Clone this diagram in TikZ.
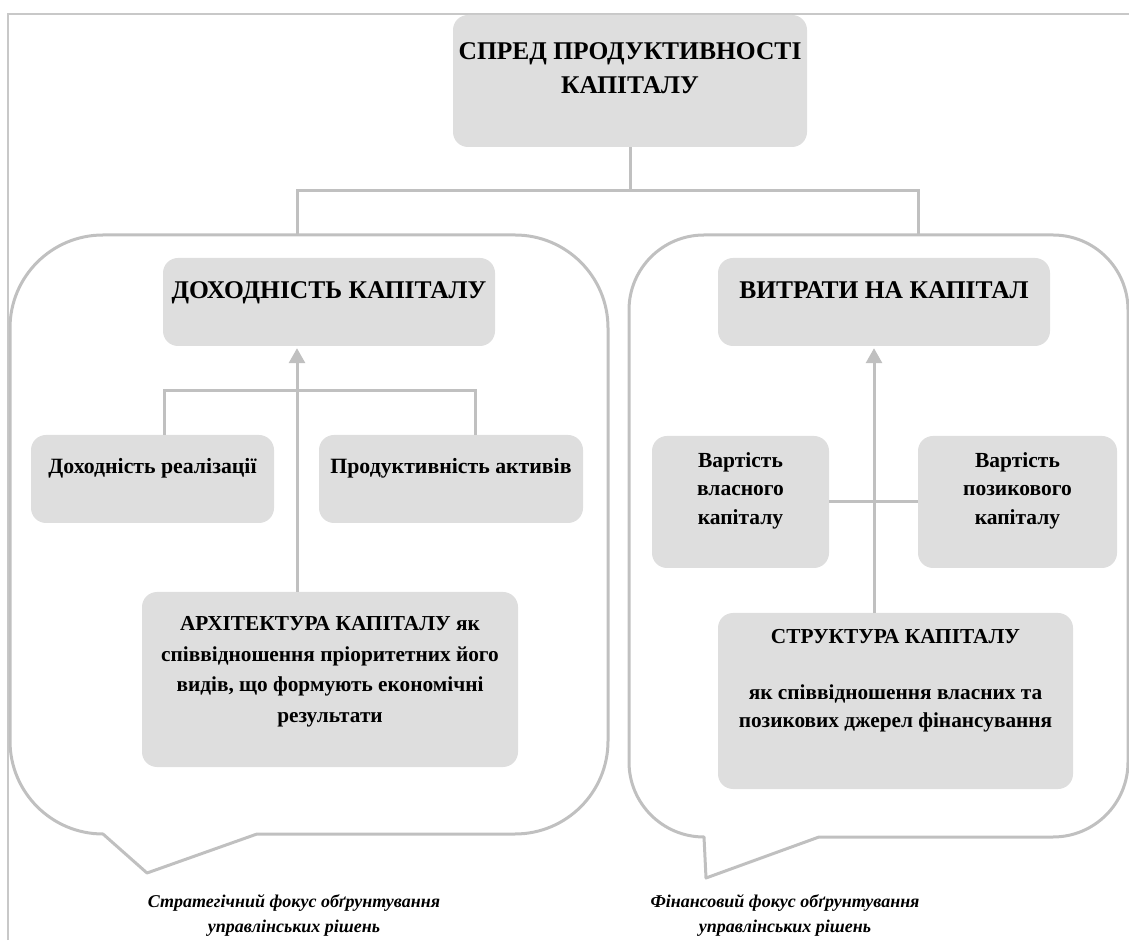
\documentclass[tikz,border=0pt]{standalone}
\usepackage{fontspec}
\setmainfont{Liberation Serif}
\usetikzlibrary{arrows.meta,calc}
\definecolor{boxfill}{RGB}{222,222,222}
\definecolor{linegray}{RGB}{192,192,192}
\definecolor{framegray}{RGB}{200,200,200}
\begin{document}
\begin{tikzpicture}[x=1pt,y=1pt,
  box/.style 2 args={fill=boxfill, draw=none, rounded corners=15pt, inner sep=0pt,
                     minimum width=#1, minimum height=#2},
  txt/.style 2 args={font=\bfseries\fontsize{#1}{#2}\selectfont, align=center,
                     inner sep=0pt, anchor=north},
  caption/.style={font=\bfseries\itshape\fontsize{18}{25}\selectfont, align=center,
                  inner sep=0pt, anchor=north},
  conn/.style={draw=linegray, line width=3pt},
  arr/.style={conn, -{Triangle[width=16pt,length=15pt]}, shorten >=2pt},
  callout/.style={draw=linegray, line width=3pt, line join=round}]
\useasboundingbox (0,0) rectangle (1129,940);

% page frame
\draw[framegray, line width=1.5pt] (8,0) -- (8,926) -- (1129,926);

% speech-bubble frames
\draw[callout] (103,705) -- (515,705) arc (90:0:93) -- (608,199) arc (0:-90:93)
  -- (257,106) -- (147,67) -- (103,106) arc (270:180:93) -- (10,612) arc (180:90:93) -- cycle;
\draw[callout] (704,705) -- (1053,705) arc (90:0:75) -- (1128,178) arc (0:-90:75)
  -- (819,103) -- (706,62) -- (704,103) arc (270:180:75) -- (629,630) arc (180:90:75) -- cycle;

% boxes
\node[box={354pt}{132pt}] (spread)    at (630,859) {};
\node[box={332pt}{88pt}]  (dohod)     at (329,638) {};
\node[box={332pt}{88pt}]  (vytraty)   at (884,638) {};
\node[box={243pt}{88pt}]  (dohrealiz) at (152.5,461) {};
\node[box={264pt}{88pt}]  (prodakt)   at (451,461) {};
\node[box={376pt}{175pt}] (arch)      at (330,260.5) {};
\node[box={177pt}{132pt}] (vlasn)     at (740.5,438) {};
\node[box={199pt}{132pt}] (pozyk)     at (1017.5,438) {};
\node[box={355pt}{176pt}] (struct)    at (895.5,239) {};

% connectors
\coordinate (jL) at (297,749);
\coordinate (jR) at (918,749);
\coordinate (cLtop) at (297,705);
\coordinate (cRtop) at (918,705);
\draw[conn] (spread.south) -- (spread.south |- jL);
\draw[conn] (cLtop) -- (jL) -- (jR) -- (cRtop);

\coordinate (aL) at (297,0);
\coordinate (aR) at (874,0);
\draw[arr] (arch.north -| aL) -- (dohod.south -| aL);
\draw[arr] (struct.north -| aR) -- (vytraty.south -| aR);

\coordinate (bL) at (164,549);
\coordinate (bR) at (475,549);
\draw[conn] (dohrealiz.north -| bL) -- (bL) -- (bR) -- (prodakt.north -| bR);
\draw[conn] (vlasn.east) -- (pozyk.west);

% texts
\node[txt={25.5}{34}] (tSpread) at ($(spread.north)+(0,-20.5)$)
  {\strut СПРЕД ПРОДУКТИВНОСТІ\\КАПІТАЛУ};
\node[txt={25.5}{34}] (tDohod) at ($(dohod.north)+(0,-17.2)$)
  {\strut ДОХОДНІСТЬ КАПІТАЛУ};
\node[txt={25.5}{34}] (tVytraty) at ($(vytraty.north)+(0,-17.2)$)
  {\strut ВИТРАТИ НА КАПІТАЛ};
\node[txt={21.8}{29}] (tDohRealiz) at ($(dohrealiz.north)+(0,-18.2)$)
  {\strut Доходність реалізації};
\node[txt={21.8}{29}] (tProdakt) at ($(prodakt.north)+(0,-18.2)$)
  {\strut Продуктивність активів};
\node[txt={21.3}{30.5}] (tArch) at ($(arch.north)+(0,-17.3)$)
  {\strut АРХІТЕКТУРА КАПІТАЛУ як\\співвідношення пріоритетних його\\видів, що формують економічні\\результати};
\node[txt={21.5}{28.5}] (tVlasn) at ($(vlasn.north)+(0,-11.5)$)
  {\strut Вартість\\власного\\капіталу};
\node[txt={21.5}{28.5}] (tPozyk) at ($(pozyk.north)+(0,-11.5)$)
  {\strut Вартість\\позикового\\капіталу};
\node[txt={21.3}{28}] (tStruct) at ($(struct.north)+(0,-10.4)$)
  {\strut СТРУКТУРА КАПІТАЛУ\\[28pt]як співвідношення власних та\\позикових джерел фінансування};

% captions under the bubbles
\node[caption] (capL) at (294,50.5)
  {\strut Стратегічний фокус обґрунтування\\управлінських рішень};
\node[caption] (capR) at (785,50.5)
  {\strut Фінансовий фокус обґрунтування\\управлінських рішень};
\end{tikzpicture}
\end{document}
